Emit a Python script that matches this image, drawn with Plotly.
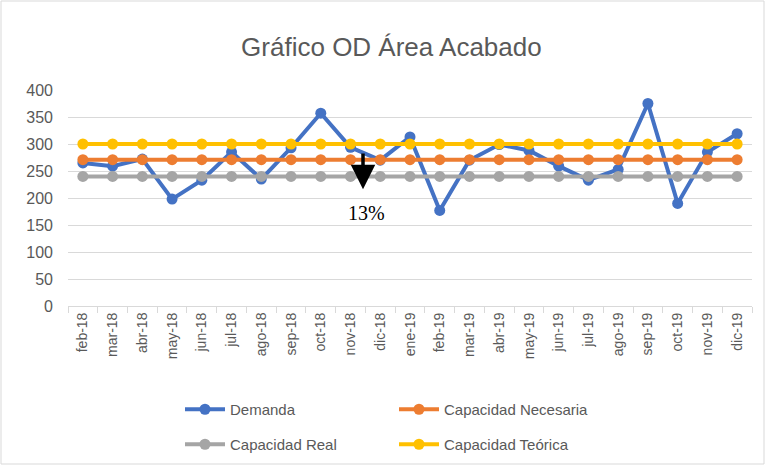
import plotly.graph_objects as go

months = ["feb-18","mar-18","abr-18","may-18","jun-18","jul-18","ago-18","sep-18","oct-18","nov-18","dic-18",
          "ene-19","feb-19","mar-19","abr-19","may-19","jun-19","jul-19","ago-19","sep-19","oct-19","nov-19","dic-19"]
demanda = [265, 259, 272, 198, 233, 285, 235, 293, 357, 294, 270,
           313, 177, 270, 299, 288, 259, 233, 253, 375, 190, 285, 319]
cap_necesaria = [271]*len(months)
cap_real = [240]*len(months)
cap_teorica = [300]*len(months)
y_ticks = [0, 50, 100, 150, 200, 250, 300, 350, 400]

W, H = 766, 466
L, R, T, B = 68, 14, 90, 160

fig = go.Figure()
series = [("Demanda", demanda, "#4472C4", "legend"),
          ("Capacidad Necesaria", cap_necesaria, "#ED7D31", "legend"),
          ("Capacidad Real", cap_real, "#A5A5A5", "legend2"),
          ("Capacidad Teórica", cap_teorica, "#FFC000", "legend2")]
for name, vals, col, lg in series:
    fig.add_trace(go.Scatter(x=months, y=vals, name=name, mode="lines+markers",
                             line=dict(color=col, width=4), marker=dict(color=col, size=11),
                             legend=lg))

pw = W - L - R
ph = H - T - B
def px2paper_x(p): return (p - L) / pw
def px2paper_y(p): return (H - B - p) / ph

fig.add_shape(type="rect", xref="paper", yref="paper",
              x0=px2paper_x(1), x1=px2paper_x(W - 2), y0=px2paper_y(H - 2), y1=px2paper_y(1),
              line=dict(color="#D9D9D9", width=1), layer="below")

fig.add_annotation(x=9.42, y=216, ax=9.42, ay=285, xref="x", yref="y", axref="x", ayref="y",
                   text="", showarrow=True, arrowhead=2, arrowsize=1.4, arrowwidth=3.5, arrowcolor="black")
fig.add_annotation(x=9.55, y=172, xref="x", yref="y", text="13%", showarrow=False,
                   font=dict(family="Liberation Serif", size=20, color="black"))

legfont = dict(family="Liberation Sans", size=15, color="#595959")
fig.update_layout(
    width=W, height=H, margin=dict(l=L, r=R, t=T, b=B, autoexpand=False),
    paper_bgcolor="white", plot_bgcolor="white",
    title=dict(text="Gráfico OD Área Acabado", x=0.511, xanchor="center", y=1 - 47/H, yanchor="middle",
               font=dict(family="Liberation Sans", size=26, color="#595959")),
    xaxis=dict(type="category", tickangle=-90, tickfont=dict(family="Liberation Sans", size=14, color="#595959"),
               showgrid=False, showline=True, linecolor="#D9D9D9", ticks="outside", tickson="boundaries",
               tickcolor="#D9D9D9", ticklen=6, range=[-0.5, len(months) - 0.5], zeroline=False),
    yaxis=dict(range=[0, 400], tickvals=y_ticks, showgrid=True, gridcolor="#D9D9D9", gridwidth=1,
               tickfont=dict(family="Liberation Sans", size=16, color="#595959"), zeroline=False,
               showline=False, ticks="", ticklabelstandoff=14),
    legend=dict(orientation="h", x=px2paper_x(180), y=px2paper_y(393), xanchor="left", yanchor="top",
                font=legfont, entrywidth=159, itemwidth=40, bgcolor="rgba(0,0,0,0)"),
    legend2=dict(orientation="h", x=px2paper_x(180), y=px2paper_y(428), xanchor="left", yanchor="top",
                 font=legfont, entrywidth=159, itemwidth=40, bgcolor="rgba(0,0,0,0)"),
)
fig.write_html("out.html", config={"displayModeBar": False},
               post_script="document.body.style.margin='0';document.body.style.overflow='hidden';")
